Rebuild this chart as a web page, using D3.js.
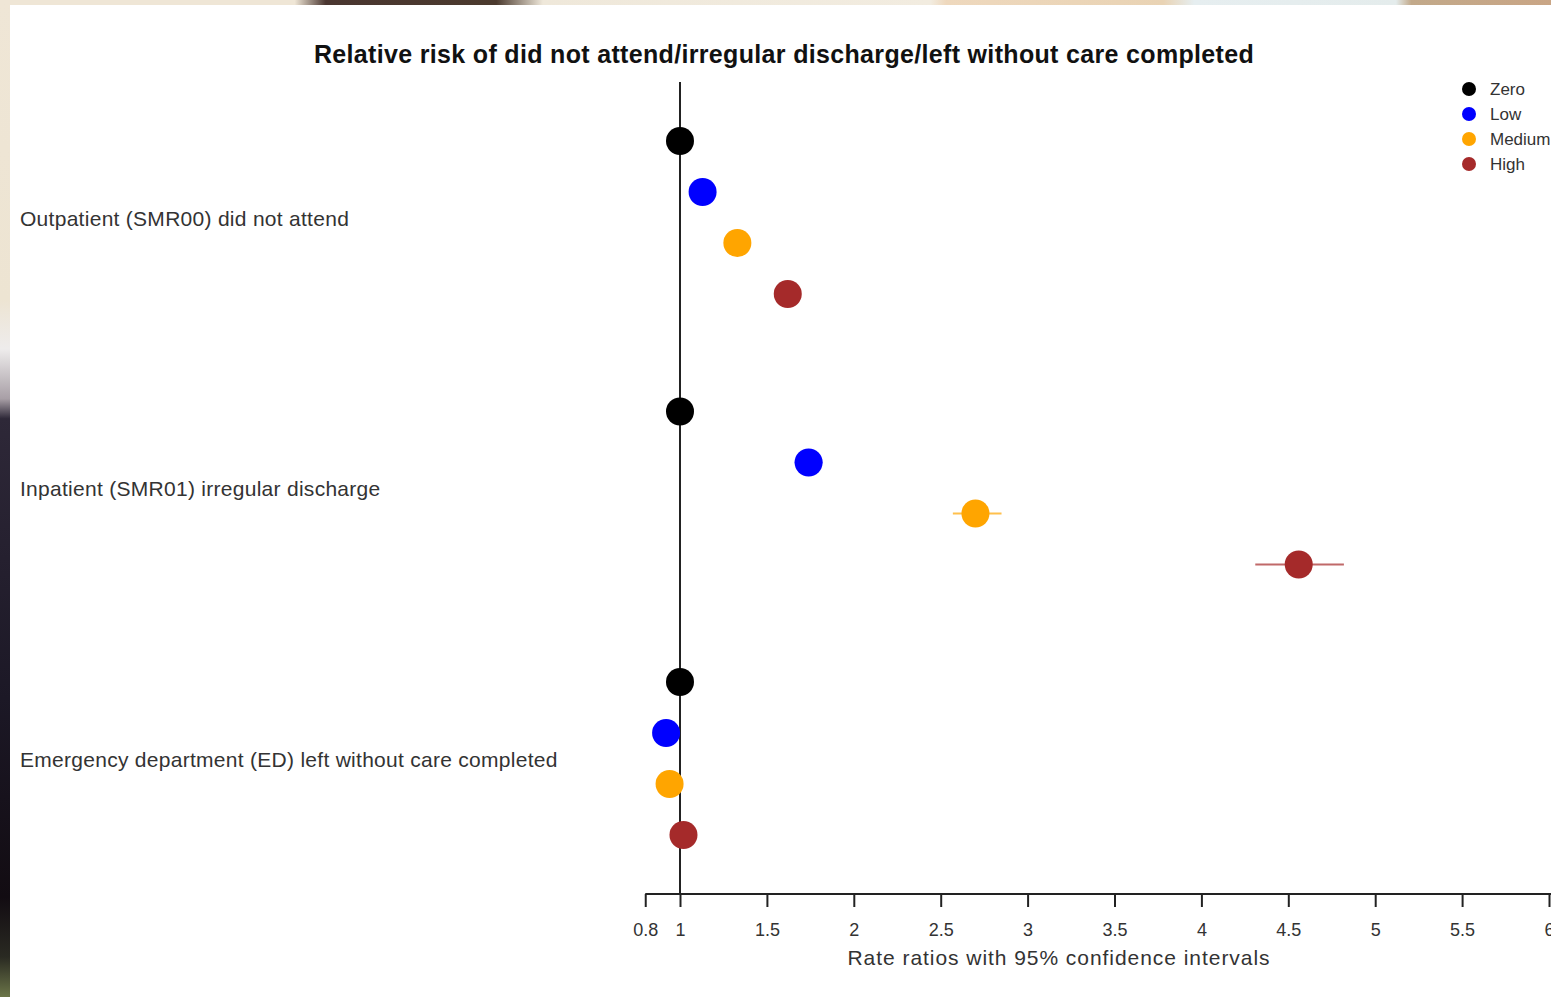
<!DOCTYPE html>
<html>
<head>
<meta charset="utf-8">
<script src="https://cdnjs.cloudflare.com/ajax/libs/d3/7.8.5/d3.min.js"></script>
<style>
    body { margin: 0; padding: 0; background: #ffffff; }
    svg { display: block; }
    text { font-family: "Liberation Sans", Arial, sans-serif; }
</style>
</head>
<body>
<div id="chart_area"></div>
<script>
// outcome rows (top to bottom)
var outcomes = ["Outpatient (SMR00) did not attend",
    "Inpatient (SMR01) irregular discharge",
    "Emergency department (ED) left without care completed"];
var groups = ["Zero", "Low", "Medium", "High"];
var group_colors = ["#000000", "#0000ff", "#ffa500", "#a52a2a"];

// rate ratios, one array per outcome, in group order
var rr_outpatient = [1, 1.13, 1.33, 1.62];
var rr_inpatient = [1, 1.74, 2.70, 4.56];
var rr_ed = [1, 0.92, 0.94, 1.02];
// 95% CI bounds
var lo_outpatient = [1, 1.12, 1.32, 1.61];
var hi_outpatient = [1, 1.14, 1.34, 1.63];
var lo_inpatient = [1, 1.66, 2.57, 4.31];
var hi_inpatient = [1, 1.82, 2.85, 4.82];
var lo_ed = [1, 0.915, 0.935, 1.01];
var hi_ed = [1, 0.925, 0.945, 1.03];

var x_ticks = [0.8, 1, 1.5, 2, 2.5, 3, 3.5, 4, 4.5, 5, 5.5, 6];

var svg_w = 1551, svg_h = 997;
var svg = d3.select("#chart_area")
    .append("svg")
    .attr("width", svg_w)
    .attr("height", svg_h);

// photo-ish border around the screenshot
var defs = svg.append("defs");
var gtop = defs.append("linearGradient").attr("id", "gtop");
[["0%", "#efe6d6"], ["19%", "#efe6d6"], ["21%", "#4a3630"], ["32%", "#4b3a2e"], ["35%", "#efe8da"],
 ["60%", "#f2ece0"], ["61%", "#eed8bd"], ["75%", "#e9d3b4"], ["77%", "#e6eef0"], ["90%", "#e4ecec"],
 ["91%", "#c2a98a"], ["100%", "#c9a585"]].forEach(function (s) {
    gtop.append("stop").attr("offset", s[0]).attr("stop-color", s[1]);
});
var gleft = defs.append("linearGradient").attr("id", "gleft")
    .attr("x1", 0).attr("y1", 0).attr("x2", 0).attr("y2", 1);
[["0%", "#efe6d6"], ["30%", "#ede4d2"], ["35%", "#eeecec"], ["40%", "#a89fa6"], ["42%", "#2e2838"],
 ["70%", "#1c1826"], ["90%", "#120c12"], ["96%", "#2a2a22"], ["100%", "#6b7548"]].forEach(function (s) {
    gleft.append("stop").attr("offset", s[0]).attr("stop-color", s[1]);
});
svg.append("rect").attr("x", 0).attr("y", 0).attr("width", svg_w).attr("height", 5).attr("fill", "url(#gtop)");
svg.append("rect").attr("x", 0).attr("y", 0).attr("width", 10).attr("height", svg_h).attr("fill", "url(#gleft)");

var xScale = d3.scaleLinear()
    .domain([1, 6])
    .range([680, 1549]);

var rowScale = d3.scaleBand()
    .domain(outcomes)
    .range([115, 115 + 3 * 270.5]);

var dotScale = d3.scalePoint()
    .domain(groups)
    .range([141 - 115, 294 - 115]);

var colorScale = d3.scaleOrdinal()
    .domain(groups)
    .range(group_colors);

// title
svg.append("text")
    .attr("x", 784)
    .attr("y", 63)
    .attr("text-anchor", "middle")
    .style("font-size", "25px")
    .style("font-weight", "bold")
    .style("letter-spacing", "0.33px")
    .style("fill", "#111")
    .text("Relative risk of did not attend/irregular discharge/left without care completed");

// reference line at 1
svg.append("line")
    .attr("x1", xScale(1)).attr("x2", xScale(1))
    .attr("y1", 82).attr("y2", 894)
    .attr("stroke", "#222")
    .attr("stroke-width", 2);

// x axis
var xAxis = d3.axisBottom(xScale)
    .tickValues(x_ticks)
    .tickFormat(function (d) { return d; })
    .tickSize(13)
    .tickSizeOuter(0);

var axis_g = svg.append("g")
    .attr("transform", "translate(0,894)")
    .call(xAxis);
axis_g.select(".domain").remove();
axis_g.append("line")
    .attr("x1", xScale(0.8)).attr("x2", svg_w)
    .attr("y1", 0).attr("y2", 0)
    .attr("stroke", "#222").attr("stroke-width", 2);
axis_g.selectAll(".tick line").attr("stroke", "#222").attr("stroke-width", 2);
axis_g.selectAll(".tick text")
    .attr("y", 29)
    .style("font-size", "18px")
    .style("font-family", "Liberation Sans, Arial, sans-serif")
    .style("fill", "#333");

svg.append("text")
    .attr("x", 1059)
    .attr("y", 965)
    .attr("text-anchor", "middle")
    .style("font-size", "21px")
    .style("letter-spacing", "0.95px")
    .style("fill", "#333")
    .text("Rate ratios with 95% confidence intervals");

// build rows
var rows = [
    { name: outcomes[0], rr: rr_outpatient, lo: lo_outpatient, hi: hi_outpatient },
    { name: outcomes[1], rr: rr_inpatient, lo: lo_inpatient, hi: hi_inpatient },
    { name: outcomes[2], rr: rr_ed, lo: lo_ed, hi: hi_ed }
];

var row_g = svg.selectAll(".row")
    .data(rows)
    .enter()
    .append("g")
    .attr("class", "row")
    .attr("transform", function (d) { return "translate(0," + rowScale(d.name) + ")"; });

row_g.append("text")
    .attr("x", 20)
    .attr("y", (dotScale("Low") + dotScale("Medium")) / 2 + 8)
    .style("font-size", "21px")
    .style("fill", "#333")
    .style("letter-spacing", "0.28px")
    .text(function (d) { return d.name; });

var pts = row_g.selectAll(".pt")
    .data(function (d) {
        return groups.map(function (g, i) {
            return { group: g, rr: d.rr[i], lo: d.lo[i], hi: d.hi[i] };
        });
    })
    .enter()
    .append("g")
    .attr("class", "pt");

pts.append("line")
    .attr("x1", function (d) { return xScale(d.lo); })
    .attr("x2", function (d) { return xScale(d.hi); })
    .attr("y1", function (d) { return dotScale(d.group); })
    .attr("y2", function (d) { return dotScale(d.group); })
    .attr("stroke", function (d) { return colorScale(d.group); })
    .attr("stroke-opacity", 0.7)
    .attr("stroke-width", 2);

pts.append("circle")
    .attr("cx", function (d) { return xScale(d.rr); })
    .attr("cy", function (d) { return dotScale(d.group); })
    .attr("r", 14)
    .style("fill", function (d) { return colorScale(d.group); });

// legend
var legend = svg.append("g")
    .attr("transform", "translate(1469,89)");
var leg_items = legend.selectAll("g")
    .data(groups)
    .enter()
    .append("g")
    .attr("transform", function (d, i) { return "translate(0," + (i * 25) + ")"; });
leg_items.append("circle")
    .attr("r", 7)
    .style("fill", function (d) { return colorScale(d); });
leg_items.append("text")
    .attr("x", 21)
    .attr("y", 6)
    .style("font-size", "17px")
    .style("fill", "#333")
    .text(function (d) { return d; });
</script>
</body>
</html>
